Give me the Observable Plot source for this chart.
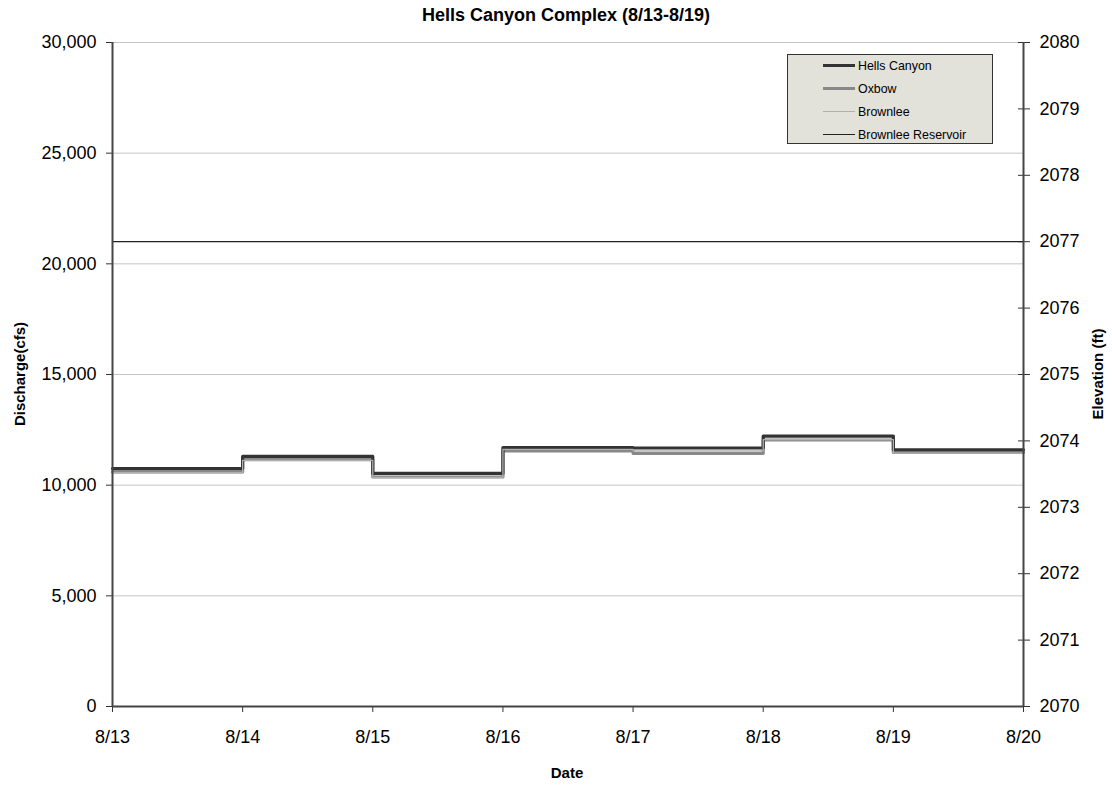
<!DOCTYPE html>
<html>
<head>
<meta charset="utf-8">
<script src="https://cdn.jsdelivr.net/npm/d3@7"></script>
<script src="https://cdn.jsdelivr.net/npm/@observablehq/plot@0.6"></script>
<style>
  html, body { margin: 0; padding: 0; background: #fff; }
  body { font-family: "Liberation Sans", Arial, sans-serif; width: 1112px; height: 788px; position: relative; overflow: hidden; }
  #title { height: 30px; line-height: 30px; text-align: center; font-weight: bold; font-size: 18px; color: #000; padding-left: 20px; }
  #chart svg { display: block; }
  .ylab { position: absolute; font-weight: bold; font-size: 15px; color: #000; white-space: nowrap; }
  #legend { position: absolute; left: 787px; top: 54px; width: 206px; height: 90px; background: #e2e1da; border: 1px solid #333; box-sizing: border-box; font-size: 12.4px; }
  .li { position: absolute; left: 0; height: 14px; }
  .li .sw { position: absolute; left: 35px; width: 32px; top: 7px; }
  .li span { position: absolute; left: 70px; top: 0; line-height: 14px; white-space: nowrap; color: #000; }
</style>
</head>
<body>
<div id="title">Hells Canyon Complex (8/13-8/19)</div>
<div id="chart"></div>
<div class="ylab" style="left:19px; top:374px; transform: translate(-50%,-50%) rotate(-90deg);">Discharge(cfs)</div>
<div class="ylab" style="left:1097px; top:374px; transform: translate(-50%,-50%) rotate(-90deg);">Elevation (ft)</div>
<div class="ylab" style="left:567px; top:764px; transform: translateX(-50%);">Date</div>
<div id="legend"></div>
<script>
// Day tick labels (index 0 = 8/13 ... 7 = 8/20)
const dayLabels = ["8/13", "8/14", "8/15", "8/16", "8/17", "8/18", "8/19", "8/20"];
// Daily discharge (cfs), one value per day 8/13..8/19
const hellsCanyon = [10750, 11300, 10530, 11700, 11680, 12220, 11600];
const oxbow       = [10600, 11150, 10370, 11550, 11440, 12040, 11480];
const brownlee    = [10560, 11120, 10350, 11620, 11550, 12060, 11450];
// Brownlee Reservoir elevation (ft), per day 8/13..8/20
const reservoir   = [2077.0, 2077.0, 2077.0, 2077.0, 2077.0, 2077.0, 2077.0, 2077.0];
// Axis ticks
const dischargeTicks = [0, 5000, 10000, 15000, 20000, 25000, 30000];
const elevTicks = [2070, 2071, 2072, 2073, 2074, 2075, 2076, 2077, 2078, 2079, 2080];

const seriesNames = ["Hells Canyon", "Oxbow", "Brownlee", "Brownlee Reservoir"];
const styles = {
  "Hells Canyon": {stroke: "#333333", width: 3.2},
  "Oxbow": {stroke: "#888888", width: 3.2},
  "Brownlee": {stroke: "#b0b0b0", width: 1.3},
  "Brownlee Reservoir": {stroke: "#222222", width: 1.3}
};

// elevation -> discharge-scale mapping (2070..2080 onto 0..30000)
const elevToQ = e => (e - 2070) * 3000;

function stepRows(arr) {
  return dayLabels.map((d, i) => ({x: i, y: arr[Math.min(i, arr.length - 1)]}));
}
const hcRows = stepRows(hellsCanyon);
const oxRows = stepRows(oxbow);
const brRows = stepRows(brownlee);
const resRows = reservoir.map((e, i) => ({x: i, y: elevToQ(e)}));

const chart = Plot.plot({
  width: 1112,
  height: 758,
  marginLeft: 112,
  marginRight: 89,
  marginTop: 12,
  marginBottom: 82,
  style: {fontFamily: "Liberation Sans, Arial, sans-serif", fontSize: "18px", color: "#000", background: "#fff"},
  x: {domain: [0, 7], axis: null},
  y: {domain: [0, 30000], axis: null},
  marks: [
    Plot.gridY(dischargeTicks, {stroke: "#c4c4c4", strokeOpacity: 1, strokeWidth: 1}),
    Plot.axisY(dischargeTicks, {anchor: "left", tickFormat: d3.format(","), tickSize: 6, tickPadding: 10, fontSize: 18, label: null, stroke: "#333"}),
    Plot.axisX(dayLabels.map((d, i) => i), {anchor: "bottom", tickFormat: i => dayLabels[i], tickSize: 6, tickPadding: 18, fontSize: 18, label: null, stroke: "#333"}),
    Plot.axisY(elevTicks.map(elevToQ), {anchor: "right", tickSize: 12, dx: -6, tickFormat: () => "", label: null, stroke: "#333"}),
    Plot.axisY(elevTicks.map(elevToQ), {anchor: "right", tickFormat: d => String(2070 + Math.round(d / 3000)), tickSize: 6, tickPadding: 10, fontSize: 18, label: null, strokeOpacity: 0}),
    Plot.line(oxRows, {x: "x", y: "y", curve: "step-after", stroke: styles["Oxbow"].stroke, strokeWidth: styles["Oxbow"].width}),
    Plot.line(hcRows, {x: "x", y: "y", curve: "step-after", stroke: styles["Hells Canyon"].stroke, strokeWidth: styles["Hells Canyon"].width}),
    Plot.line(brRows, {x: "x", y: "y", curve: "step-after", stroke: styles["Brownlee"].stroke, strokeWidth: styles["Brownlee"].width}),
    Plot.line(resRows, {x: "x", y: "y", stroke: styles["Brownlee Reservoir"].stroke, strokeWidth: styles["Brownlee Reservoir"].width}),
    Plot.ruleX([0], {stroke: "#444", strokeWidth: 2}),
    Plot.ruleX([7], {stroke: "#444", strokeWidth: 2}),
    Plot.ruleY([0], {stroke: "#444", strokeWidth: 2})
  ]
});
document.getElementById("chart").appendChild(chart);

// legend
const leg = document.getElementById("legend");
seriesNames.forEach((name, i) => {
  const li = document.createElement("div");
  li.className = "li";
  li.style.top = (4 + i * 23) + "px";
  li.style.width = "100%";
  const sw = document.createElement("div");
  sw.className = "sw";
  sw.style.borderTop = styles[name].width + "px solid " + styles[name].stroke;
  sw.style.marginTop = (-styles[name].width / 2) + "px";
  const sp = document.createElement("span");
  sp.textContent = name;
  li.appendChild(sw);
  li.appendChild(sp);
  leg.appendChild(li);
});
</script>
</body>
</html>
